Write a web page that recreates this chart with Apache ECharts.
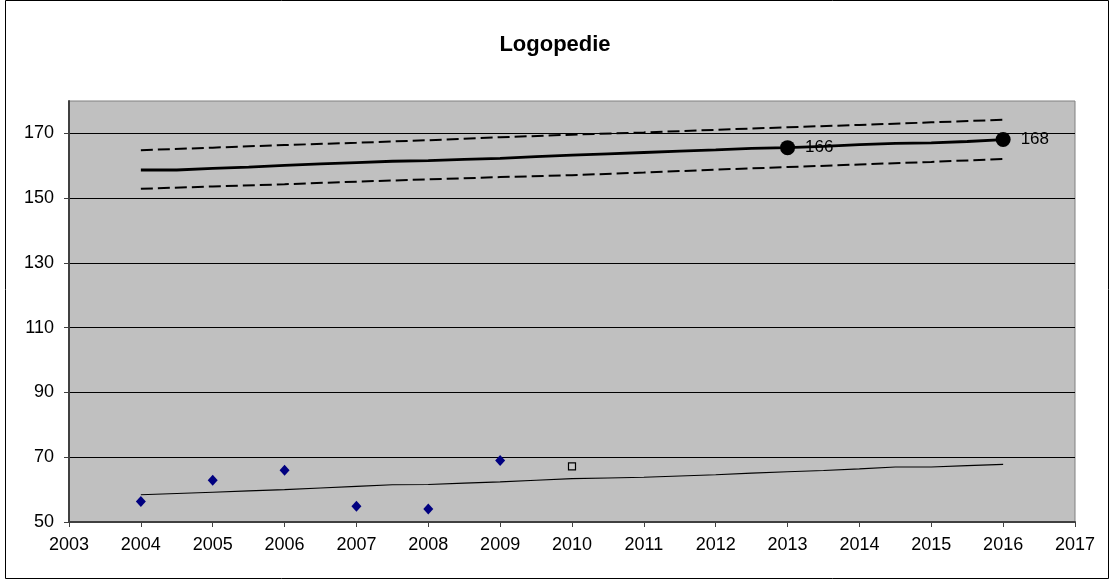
<!DOCTYPE html>
<html>
<head>
<meta charset="utf-8">
<script src="https://cdn.jsdelivr.net/npm/echarts@6/dist/echarts.min.js"></script>
<style>html,body{margin:0;padding:0;background:#fff}#c{width:1110px;height:579px}</style>
</head>
<body>
<div id="c"></div>
<script>
// ---- data ----
const chartTitle = 'Logopedie';
const xTicks = [2003, 2017];
const yRange = [50, 180];
const yTickValues = [50, 70, 90, 110, 130, 150, 170];
// observed yearly values (blue diamonds)
const obsYears = [2004, 2005, 2006, 2007, 2008, 2009];
const obsValues = [56.3, 62.9, 66.0, 54.9, 54.0, 69.0];
// open square (2010)
const openYears = [2010];
const openValues = [67.2];
// thin trend line (half-year points)
const halfYears = [2004, 2004.5, 2005, 2005.5, 2006, 2006.5, 2007, 2007.5, 2008, 2008.5, 2009, 2009.5, 2010, 2010.5, 2011, 2011.5, 2012, 2012.5, 2013, 2013.5, 2014, 2014.5, 2015, 2015.5, 2016];
const trendLow = [58.4, 58.8, 59.2, 59.6, 60.0, 60.5, 61.0, 61.5, 61.6, 62.0, 62.4, 62.9, 63.4, 63.6, 63.8, 64.2, 64.6, 65.1, 65.5, 65.9, 66.4, 67.0, 67.0, 67.4, 67.8];
// thick upper line
const trendHigh = [158.7, 158.7, 159.2, 159.6, 160.1, 160.6, 161.0, 161.4, 161.6, 162.0, 162.3, 162.8, 163.3, 163.7, 164.1, 164.5, 164.9, 165.4, 165.6, 166.0, 166.5, 166.9, 167.1, 167.5, 168.1];
// dashed band (yearly points)
const bandYears = [2004, 2005, 2006, 2007, 2008, 2009, 2010, 2011, 2012, 2013, 2014, 2015, 2016];
const bandUpper = [164.8, 165.6, 166.4, 167.1, 167.9, 168.8, 169.6, 170.3, 171.1, 171.9, 172.6, 173.4, 174.2];
const bandLower = [152.9, 153.6, 154.3, 155.1, 155.8, 156.5, 157.1, 157.9, 158.8, 159.6, 160.4, 161.2, 162.1];
// highlighted points with labels
const markYears = [2013, 2016];
const markValues = [165.6, 168.1];
const markLabels = ['166', '168'];

const pair = (xs, ys) => xs.map((x, i) => [x, ys[i]]);

const chart = echarts.init(document.getElementById('c'), null, {renderer: 'canvas'});
const FONT = 'Liberation Sans, Arial, sans-serif';

chart.setOption({
  animation: false,
  backgroundColor: '#ffffff',
  title: {
    text: chartTitle, left: 'center', top: 29,
    textStyle: {fontFamily: FONT, fontWeight: 'bold', fontSize: 22, color: '#000'}
  },
  graphic: [{
    type: 'rect', shape: {x: 5.5, y: 0.5, width: 1103, height: 578},
    style: {fill: 'none', stroke: '#000', lineWidth: 1}, silent: true, z: -1
  }],
  grid: {
    left: 69, right: 35, top: 101, bottom: 57,
    show: true, backgroundColor: '#C0C0C0', borderColor: '#808080', borderWidth: 1
  },
  xAxis: {
    type: 'value', min: xTicks[0], max: xTicks[1], interval: 1,
    axisLine: {show: true, onZero: false, lineStyle: {color: '#404040', width: 2}},
    axisTick: {show: true, inside: false, length: 5, lineStyle: {color: '#404040', width: 1}},
    axisLabel: {margin: 14, fontFamily: FONT, fontSize: 18, color: '#000', formatter: v => String(v)},
    splitLine: {show: false}
  },
  yAxis: {
    type: 'value', min: yRange[0], max: yRange[1],
    axisLine: {show: true, lineStyle: {color: '#404040', width: 2}},
    axisTick: {show: true, inside: false, length: 5, customValues: yTickValues,
      lineStyle: {color: '#404040', width: 1}},
    axisLabel: {margin: 15, fontFamily: FONT, fontSize: 18, color: '#000', customValues: yTickValues,
      formatter: v => String(v)},
    splitLine: {show: true, lineStyle: {color: '#000', width: 1}}
  },
  series: [
    {type: 'line', data: pair(bandYears, bandUpper), showSymbol: false, symbol: 'none',
      lineStyle: {color: '#000', width: 2, type: [12, 5]}, z: 3},
    {type: 'line', data: pair(bandYears, bandLower), showSymbol: false, symbol: 'none',
      lineStyle: {color: '#000', width: 2, type: [12, 5]}, z: 3},
    {type: 'line', data: pair(halfYears, trendHigh), showSymbol: false, symbol: 'none',
      lineStyle: {color: '#000', width: 2.8}, z: 4},
    {type: 'line', data: pair(halfYears, trendLow), showSymbol: false, symbol: 'none',
      lineStyle: {color: '#000', width: 1.1}, z: 4},
    {type: 'scatter', data: pair(obsYears, obsValues), symbol: 'diamond', symbolSize: [10, 11],
      itemStyle: {color: '#000080', opacity: 1}, z: 5},
    {type: 'scatter', data: pair(openYears, openValues), symbol: 'rect', symbolSize: 7,
      itemStyle: {color: '#C8C8C8', borderColor: '#000', borderWidth: 1.2, opacity: 1}, z: 5},
    {type: 'scatter', data: pair(markYears, markValues), symbol: 'circle', symbolSize: 15,
      itemStyle: {color: '#000', opacity: 1}, z: 6,
      label: {show: true, position: 'right', distance: 10, fontFamily: FONT, fontSize: 17, color: '#000',
        opacity: 1, formatter: p => markLabels[p.dataIndex]}}
  ]
});
</script>
</body>
</html>
